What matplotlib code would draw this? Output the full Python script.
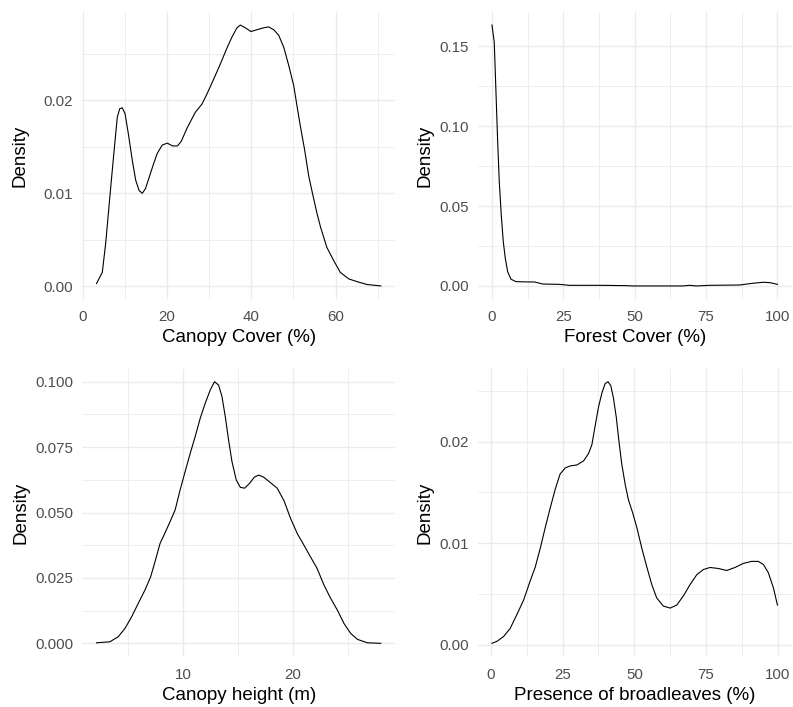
import matplotlib
matplotlib.use("Agg")
import matplotlib.pyplot as plt

plt.rcParams['font.family'] = ['Liberation Sans', 'DejaVu Sans']

# density curves
cc_x = [3.3, 4.67, 5.47, 6.1, 6.9, 7.7, 8.23, 8.8, 9.4, 10.05, 10.85, 11.8, 12.6, 13.4, 14.15,
        14.9, 15.7, 16.7, 17.7, 18.9, 20.1, 21.3, 22.5, 23.4, 24.75, 26.7, 28.3, 29.5, 31.1,
        32.65, 34.2, 35.4, 36.6, 37.4, 38.6, 39.9, 41.35, 42.9, 44.1, 45.3, 46.5, 47.7, 48.85,
        50.05, 50.8, 51.6, 52.6, 53.6, 54.6, 55.6, 56.4, 57.9, 59.5, 61.1, 63.1, 65.1, 67.4,
        70.7]
cc_y = [0.0003, 0.0015, 0.0046, 0.0078, 0.0118, 0.0157, 0.0182, 0.0191, 0.0192, 0.0186, 0.0164,
        0.0135, 0.0114, 0.0103, 0.0100, 0.0105, 0.0116, 0.0130, 0.0143, 0.0152, 0.0154, 0.0151,
        0.0151, 0.0156, 0.0170, 0.0187, 0.0196, 0.0207, 0.0223, 0.0239, 0.0256, 0.0268, 0.0278,
        0.0281, 0.0278, 0.0274, 0.0276, 0.0278, 0.0279, 0.0276, 0.0270, 0.0257, 0.0238, 0.0216,
        0.0195, 0.0173, 0.0148, 0.0119, 0.0098, 0.0078, 0.0064, 0.0042, 0.0028, 0.0015, 0.0008,
        0.0005, 0.0002, 0.00004]

fc_x = [0, 0.8, 1.4, 2.0, 2.56, 3.26, 3.96, 4.67, 5.5, 6.67, 8.4, 13.1, 14.9, 17.8, 23.6, 27.1,
        37.7, 47.0, 49.4, 66.9, 69.2, 71.6, 76.3, 86.8, 91.5, 95.0, 97.3, 100]
fc_y = [0.1633, 0.1525, 0.1213, 0.0901, 0.0651, 0.0443, 0.0277, 0.0173, 0.0089, 0.0042,
        0.0027, 0.0025, 0.0025, 0.0012, 0.0010, 0.0004, 0.0004, 0.0002, 0.0, 0.0, 0.0004, 0.0,
        0.0004, 0.0006, 0.0017, 0.0023, 0.0021, 0.0010]

ch_x = [2.15, 3.37, 4.12, 4.74, 5.35, 5.95, 6.56, 7.08, 7.47, 7.93, 8.29, 8.84, 9.3, 9.75,
        10.2, 10.65, 11.12, 11.58, 12.03, 12.49, 12.88, 13.25, 13.56, 13.86, 14.16, 14.47,
        14.86, 15.23, 15.62, 16.08, 16.5, 16.9, 17.35, 17.97, 18.58, 19.2, 19.79, 20.4, 21.0,
        21.6, 22.2, 22.83, 23.44, 24.05, 24.65, 25.26, 25.88, 26.79, 28.0]
ch_y = [0.0002, 0.0006, 0.0025, 0.0057, 0.0102, 0.0153, 0.0204, 0.0255, 0.0312, 0.0382, 0.0414,
        0.0465, 0.0510, 0.0586, 0.0655, 0.0723, 0.0790, 0.0860, 0.0917, 0.0968, 0.1000, 0.0987,
        0.0943, 0.0866, 0.0777, 0.0694, 0.0624, 0.0596, 0.0593, 0.0612, 0.0635, 0.0643, 0.0635,
        0.0614, 0.0593, 0.0545, 0.0478, 0.0420, 0.0376, 0.0331, 0.0287, 0.0223, 0.0172, 0.0127,
        0.0076, 0.0038, 0.0015, 0.0002, 0.0]

bl_x = [0.35, 2.1, 4.4, 6.7, 9.1, 11.4, 13.7, 15.4, 17.2, 18.9, 20.7, 22.4, 24.1, 25.9, 27.6,
        30.0, 32.3, 34.0, 35.2, 36.3, 37.5, 38.7, 39.8, 40.8, 41.8, 42.7, 43.7, 44.6, 45.6,
        46.8, 47.9, 49.4, 50.9, 52.6, 54.4, 56.1, 57.8, 60.1, 62.5, 64.8, 67.1, 69.4, 71.8,
        74.1, 76.4, 79.3, 82.2, 85.1, 88.0, 90.9, 93.2, 95.0, 96.7, 98.5, 99.9]
bl_y = [0.00013, 0.00033, 0.0008, 0.0016, 0.0030, 0.0044, 0.0063, 0.0076, 0.0095, 0.0115,
        0.0135, 0.0153, 0.0168, 0.0174, 0.0176, 0.0177, 0.0181, 0.0188, 0.0197, 0.0215, 0.0234,
        0.0248, 0.0257, 0.0259, 0.0255, 0.0243, 0.0224, 0.0201, 0.0178, 0.0158, 0.0143, 0.0130,
        0.0115, 0.0095, 0.0076, 0.0059, 0.0046, 0.0038, 0.0036, 0.0039, 0.0048, 0.0059, 0.0069,
        0.0074, 0.0076, 0.0075, 0.0073, 0.0076, 0.0080, 0.0082, 0.0082, 0.0079, 0.0071, 0.0056,
        0.0039]

panels = [
    (cc_x, cc_y, 'Canopy Cover (%)', [0, 20, 40, 60], [10, 30, 50, 70],
     [0, 0.01, 0.02], ['0.00', '0.01', '0.02'], [0.005, 0.015, 0.025]),
    (fc_x, fc_y, 'Forest Cover (%)', [0, 25, 50, 75, 100], [12.5, 37.5, 62.5, 87.5],
     [0, 0.05, 0.10, 0.15], ['0.00', '0.05', '0.10', '0.15'], [0.025, 0.075, 0.125]),
    (ch_x, ch_y, 'Canopy height (m)', [10, 20], [5, 15, 25],
     [0, 0.025, 0.05, 0.075, 0.1], ['0.000', '0.025', '0.050', '0.075', '0.100'],
     [0.0125, 0.0375, 0.0625, 0.0875]),
    (bl_x, bl_y, 'Presence of broadleaves (%)', [0, 25, 50, 75, 100], [12.5, 37.5, 62.5, 87.5],
     [0, 0.01, 0.02], ['0.00', '0.01', '0.02'], [0.005, 0.015, 0.025]),
]

# axes boxes in pixels (left, top, right, bottom)
boxes = [(82.3, 12, 395, 299), (477.7, 12, 791.7, 299),
         (82.3, 368.6, 395, 656.4), (477.7, 368.6, 791.7, 656.4)]
ylab_x = [-0.199, -0.168, -0.197, -0.168]

W, H = 793, 707
fig = plt.figure(figsize=(W / 100, H / 100), dpi=100)

for i, (x, y, xlab, xt, xmt, yt, ytl, ymt) in enumerate(panels):
    l, t, r, b = boxes[i]
    ax = fig.add_axes([l / W, 1 - b / H, (r - l) / W, (b - t) / H])
    ax.plot(x, y, color='black', lw=0.8, solid_joinstyle='round')
    ax.margins(0.05)
    xmin, xmax = ax.get_xlim()
    ymin, ymax = ax.get_ylim()
    ax.set_xticks(xt)
    ax.set_xticks([v for v in xmt if xmin <= v <= xmax], minor=True)
    ax.set_yticks(yt)
    ax.set_yticklabels(ytl)
    ax.set_yticks([v for v in ymt if ymin <= v <= ymax], minor=True)
    ax.set_xlim(xmin, xmax)
    ax.set_ylim(ymin, ymax)
    for s in ax.spines.values():
        s.set_visible(False)
    ax.grid(which='major', color='#EBEBEB', lw=1.0)
    ax.grid(which='minor', color='#EBEBEB', lw=0.6)
    ax.set_axisbelow(True)
    ax.tick_params(which='both', length=0)
    ax.tick_params(axis='x', pad=8, labelsize=10.8, labelcolor='#4D4D4D')
    ax.tick_params(axis='y', pad=6.5, labelsize=10.8, labelcolor='#4D4D4D')
    ax.set_xlabel(xlab, fontsize=13.5, va='center')
    ax.xaxis.set_label_coords(0.5, -0.135)
    ax.set_ylabel('Density', fontsize=13.5, va='center')
    ax.yaxis.set_label_coords(ylab_x[i], 0.5)

fig.savefig('out.png', dpi=100)
